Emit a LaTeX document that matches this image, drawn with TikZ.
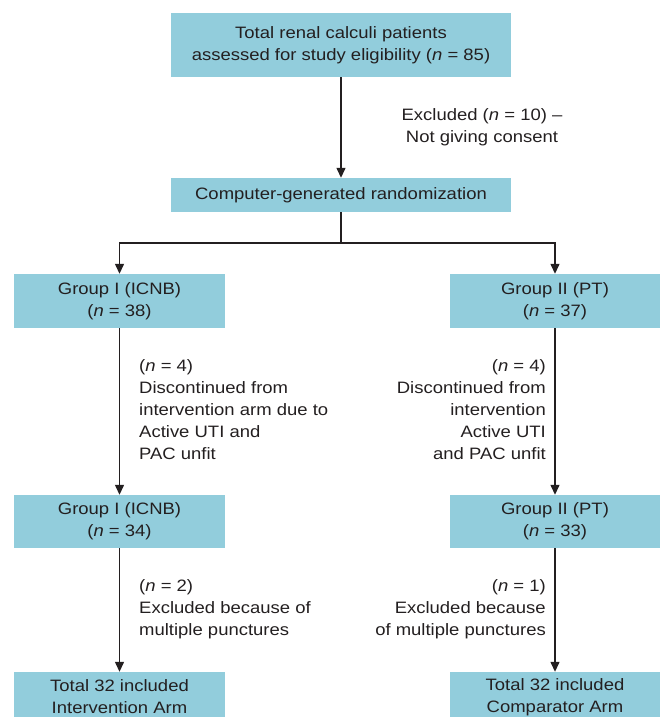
\documentclass[tikz,border=0pt]{standalone}
\usepackage{fontspec}
\setmainfont[FakeStretch=1.12]{Liberation Sans}
\usetikzlibrary{arrows.meta}
\definecolor{boxblue}{RGB}{146,205,220}
\definecolor{ink}{RGB}{35,31,32}
\newcommand\diagfont{\fontsize{16.5}{22}\selectfont}
\begin{document}
\begin{tikzpicture}[x=1pt,y=-1pt,
  box/.style={fill=boxblue, draw=none, align=center, inner sep=0pt, font=\diagfont, text=ink},
  note/.style={inner sep=0pt, font=\diagfont, text=ink},
  conn/.style={draw=ink, line width=1.3pt},
  arr/.style={conn, -{Triangle[width=9pt,length=10pt]}}]
\useasboundingbox (0,0) rectangle (660,717);
\clip (0,0) rectangle (660,717);

\node[box, minimum width=340, minimum height=64] (top) at (341,45)
  {Total renal calculi patients\\assessed for study eligibility (\textit{n} = 85)};
\node[box, minimum width=340, minimum height=34] (rand) at (341,195)
  {Computer-generated randomization};
\node[note, align=center] (excl) at (482,127)
  {Excluded (\textit{n} = 10) –\\Not giving consent};

\node[box, minimum width=211, minimum height=54] (g1a) at (119.5,301)
  {Group I (ICNB)\\(\textit{n} = 38)};
\node[box, minimum width=210, minimum height=54] (g2a) at (555,301)
  {Group II (PT)\\(\textit{n} = 37)};
\node[box, minimum width=211, minimum height=53] (g1b) at (119.5,521.5)
  {Group I (ICNB)\\(\textit{n} = 34)};
\node[box, minimum width=210, minimum height=53] (g2b) at (555,521.5)
  {Group II (PT)\\(\textit{n} = 33)};
\node[box, minimum width=211, minimum height=50] (f1) at (119.5,697)
  {Total 32 included\\Intervention Arm};
\node[box, minimum width=210, minimum height=50] (f2) at (555,697)
  {Total 32 included\\Comparator Arm};

\node[note, align=left, anchor=west] (n1) at (139,410)
  {(\textit{n} = 4)\\Discontinued from\\intervention arm due to\\Active UTI and\\PAC unfit};
\node[note, align=right, anchor=east] (n2) at (546,410)
  {(\textit{n} = 4)\\Discontinued from\\intervention\hspace*{5pt}\\Active UTI\\and PAC unfit};
\node[note, align=left, anchor=west] (n3) at (139,609)
  {(\textit{n} = 2)\\Excluded because of\\multiple punctures};
\node[note, align=right, anchor=east] (n4) at (546,609)
  {(\textit{n} = 1)\\Excluded because\\of multiple punctures};

\coordinate (br) at (341,243);
\draw[arr] (top) -- (rand);
\draw[conn] (rand) -- (br);
\draw[arr] (br) -| (g1a);
\draw[arr] (br) -| (g2a);
\draw[arr] (g1a) -- (g1b);
\draw[arr] (g2a) -- (g2b);
\draw[arr] (g1b) -- (f1);
\draw[arr] (g2b) -- (f2);
\end{tikzpicture}
\end{document}
